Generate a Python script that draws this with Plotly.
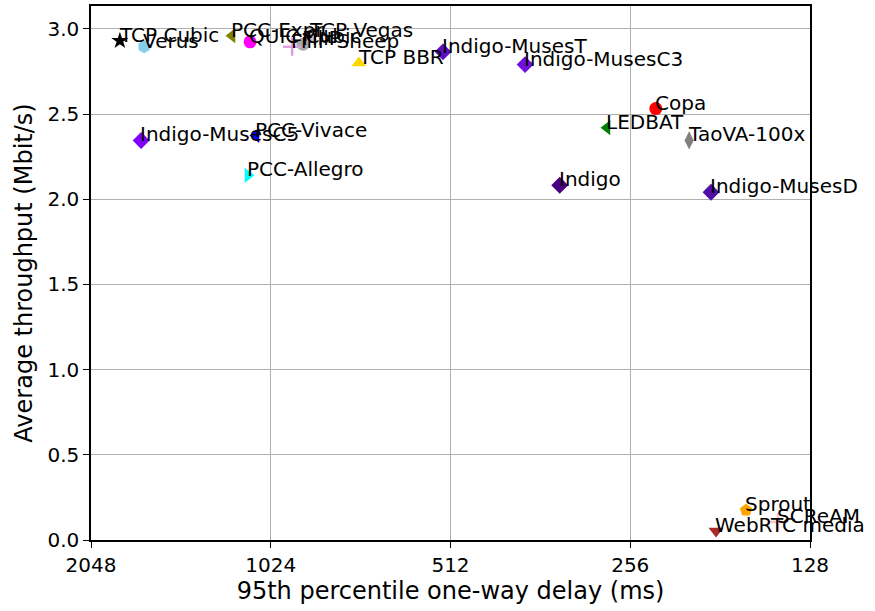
import math
import plotly.graph_objects as go

schemes = ["TCP Cubic", "Verus", "PCC-Expr", "QUIC Cubic", "FillP", "TCP Vegas",
           "FillP-Sheep", "TCP BBR", "Indigo-MusesT", "Indigo-MusesC3",
           "Indigo-MusesC5", "PCC-Vivace", "PCC-Allegro", "Indigo", "LEDBAT",
           "Copa", "TaoVA-100x", "Indigo-MusesD", "Sprout", "SCReAM", "WebRTC media"]
delay_ms = [1832, 1669, 1189, 1109, 904, 880,
            943, 729, 527, 384,
            1688, 1084, 1118, 336, 280,
            232, 204, 187.5, 163.8, 144.8, 183.9]
throughput = [2.93, 2.895, 2.96, 2.924, 2.91, 2.96,
              2.895, 2.80, 2.865, 2.79,
              2.345, 2.374, 2.14, 2.082, 2.42,
              2.532, 2.345, 2.041, 0.175, 0.105, 0.053]
x_ticks = [2048, 1024, 512, 256, 128]
y_ticks = [0.0, 0.5, 1.0, 1.5, 2.0, 2.5, 3.0]

colors = ["black", "skyblue", "olive", "magenta", "darkgray", "thistle",
          "plum", "gold", "#6010c0", "#7010e0",
          "#8000ff", "blue", "cyan", "#4b0082", "green",
          "red", "gray", "#5010a8", "orange", "pink", "brown"]
symbols = ["star", "hexagon", "triangle-left", "circle", "circle", "circle",
           "cross-thin", "triangle-up", "diamond", "diamond",
           "diamond", "triangle-left", "triangle-right", "diamond", "triangle-left",
           "circle", "diamond-tall", "diamond", "pentagon", "cross-thin", "triangle-down"]

fig = go.Figure()
for n, d, t, c, s in zip(schemes, delay_ms, throughput, colors, symbols):
    line = dict(width=2.5, color=c) if s.endswith("thin") else dict(width=0)
    fig.add_trace(go.Scatter(x=[d], y=[t], mode="markers", name=n,
                             marker=dict(color=c, symbol=s, size=13, line=line),
                             showlegend=False))
    fig.add_annotation(x=math.log10(d), y=t, text=n, showarrow=False,
                       xanchor="left", yanchor="middle", xshift=-3, yshift=6,
                       font=dict(size=20, color="black"))

axis_common = dict(showline=True, linecolor="black", linewidth=1.5, mirror=True,
                   ticks="outside", ticklen=6, tickcolor="black",
                   showgrid=True, gridcolor="#b0b0b0", gridwidth=1.2,
                   zeroline=False, tickfont=dict(size=20, color="black"))
fig.update_xaxes(type="log", range=[math.log10(2048), math.log10(128)],
                 tickvals=x_ticks, ticktext=[str(v) for v in x_ticks],
                 title=dict(text="95th percentile one-way delay (ms)",
                            font=dict(size=24, color="black"), standoff=6),
                 **axis_common)
fig.update_yaxes(range=[0, 3.134], tickvals=y_ticks,
                 ticktext=[f"{v:.1f}" for v in y_ticks],
                 title=dict(text="Average throughput (Mbit/s)",
                            font=dict(size=24, color="black"), standoff=8),
                 **axis_common)
fig.update_layout(width=875, height=611, margin=dict(l=91, r=65, t=4, b=71),
                  plot_bgcolor="white", paper_bgcolor="white",
                  font=dict(family="DejaVu Sans", color="black"))
fig.write_html("out.html")
